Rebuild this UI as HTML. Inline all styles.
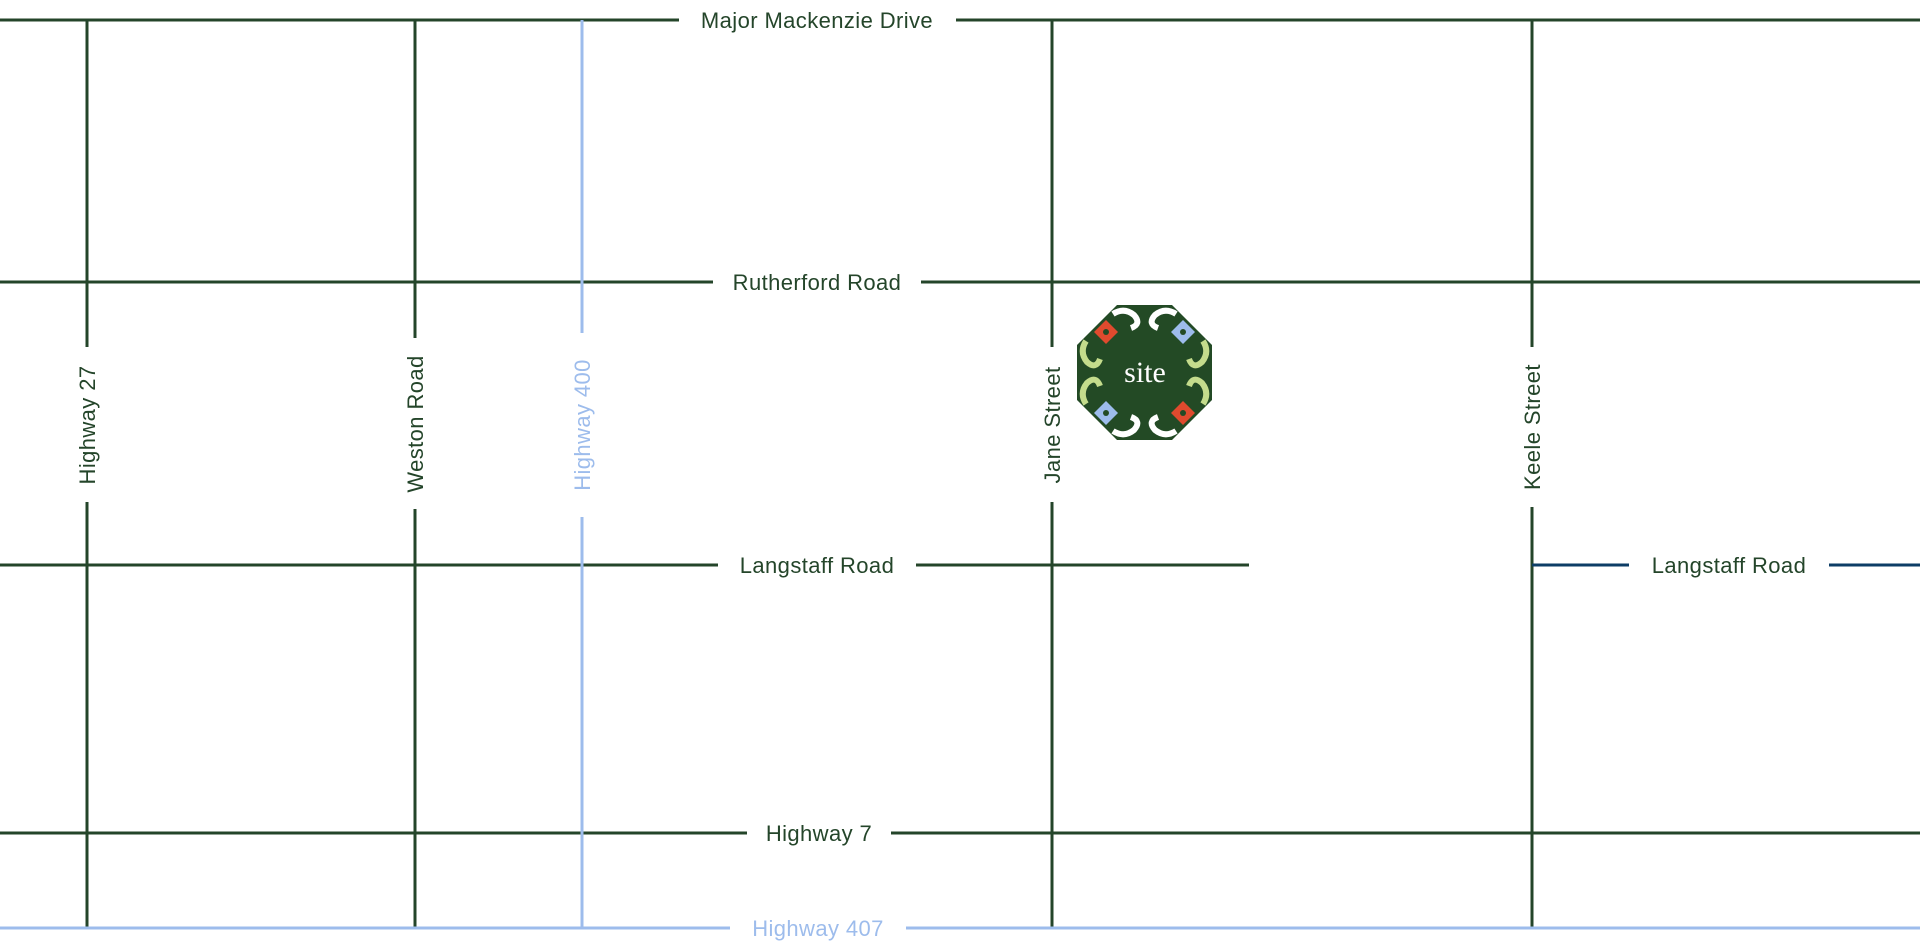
<!DOCTYPE html>
<html><head><style>
html,body{margin:0;padding:0;background:#fff;}
svg{display:block}
text{font-family:"Liberation Sans",sans-serif;font-size:22px;letter-spacing:0.4px;fill:#24452a;}
</style></head><body>
<svg width="1920" height="950" viewBox="0 0 1920 950">
<g stroke="#24452a" stroke-width="3" fill="none">
<line x1="0" y1="20" x2="679" y2="20"/><line x1="956" y1="20" x2="1920" y2="20"/>
<line x1="0" y1="282" x2="713" y2="282"/><line x1="921" y1="282" x2="1920" y2="282"/>
<line x1="0" y1="565" x2="718" y2="565"/><line x1="916" y1="565" x2="1249" y2="565"/>
<line x1="0" y1="833" x2="747" y2="833"/><line x1="891" y1="833" x2="1920" y2="833"/>
<line x1="87" y1="20" x2="87" y2="347"/><line x1="87" y1="502" x2="87" y2="927"/>
<line x1="415" y1="20" x2="415" y2="338"/><line x1="415" y1="509" x2="415" y2="927"/>
<line x1="1052" y1="20" x2="1052" y2="347"/><line x1="1052" y1="502" x2="1052" y2="927"/>
<line x1="1532" y1="20" x2="1532" y2="347"/><line x1="1532" y1="507" x2="1532" y2="927"/>
</g>
<g stroke="#9dbcec" stroke-width="3">
<line x1="582" y1="20" x2="582" y2="333"/><line x1="582" y1="517" x2="582" y2="927"/>
<line x1="0" y1="928" x2="730" y2="928"/><line x1="906" y1="928" x2="1920" y2="928"/>
</g>
<g stroke="#0d3d66" stroke-width="3">
<line x1="1532" y1="565" x2="1629" y2="565"/><line x1="1829" y1="565" x2="1920" y2="565"/>
</g>
<text x="817" y="28" text-anchor="middle">Major Mackenzie Drive</text>
<text x="817" y="290" text-anchor="middle">Rutherford Road</text>
<text x="817" y="573" text-anchor="middle">Langstaff Road</text>
<text x="1729" y="573" text-anchor="middle">Langstaff Road</text>
<text x="819" y="841" text-anchor="middle">Highway 7</text>
<text x="818" y="936" text-anchor="middle" style="fill:#9dbcec">Highway 407</text>
<text transform="translate(95,425) rotate(-90)" text-anchor="middle">Highway 27</text>
<text transform="translate(423,424) rotate(-90)" text-anchor="middle">Weston Road</text>
<text transform="translate(590,425) rotate(-90)" text-anchor="middle" style="fill:#9dbcec">Highway 400</text>
<text transform="translate(1060,425) rotate(-90)" text-anchor="middle">Jane Street</text>
<text transform="translate(1540,427) rotate(-90)" text-anchor="middle">Keele Street</text>
<g transform="translate(1077,305)">
<polygon points="40,0 95,0 135,40 135,95 95,135 40,135 0,95 0,40" fill="#234a25"/>
<g fill="none" stroke="#fff" stroke-width="6">
<path d="M36,9 q11,-7 21,1 q8,9 -3,13 M99,9 q-11,-7 -21,1 q-8,9 3,13"/>
<path d="M36,126 q11,7 21,-1 q8,-9 -3,-13 M99,126 q-11,7 -21,-1 q-8,-9 3,-13"/>
</g>
<g fill="none" stroke="#c4dc8c" stroke-width="6">
<path d="M9,36 q-7,11 1,21 q9,8 13,-3 M9,99 q-7,-11 1,-21 q9,-8 13,3"/>
<path d="M126,36 q7,11 -1,21 q-9,8 -13,-3 M126,99 q7,-11 -1,-21 q-9,-8 -13,3"/>
</g>
<polygon points="29,15 41,27 29,39 17,27" fill="#e04a2e"/>
<polygon points="106,96 118,108 106,120 94,108" fill="#e04a2e"/>
<polygon points="106,15 118,27 106,39 94,27" fill="#9dbcec"/>
<polygon points="29,96 41,108 29,120 17,108" fill="#9dbcec"/>
<g fill="#234a25"><circle cx="29" cy="27" r="3"/><circle cx="106" cy="108" r="3"/><circle cx="106" cy="27" r="3"/><circle cx="29" cy="108" r="3"/></g>
<text x="68" y="77" text-anchor="middle" style="font-family:'Liberation Serif',serif;font-size:30px;letter-spacing:0;fill:#fff">site</text>
</g>
</svg>
</body></html>
